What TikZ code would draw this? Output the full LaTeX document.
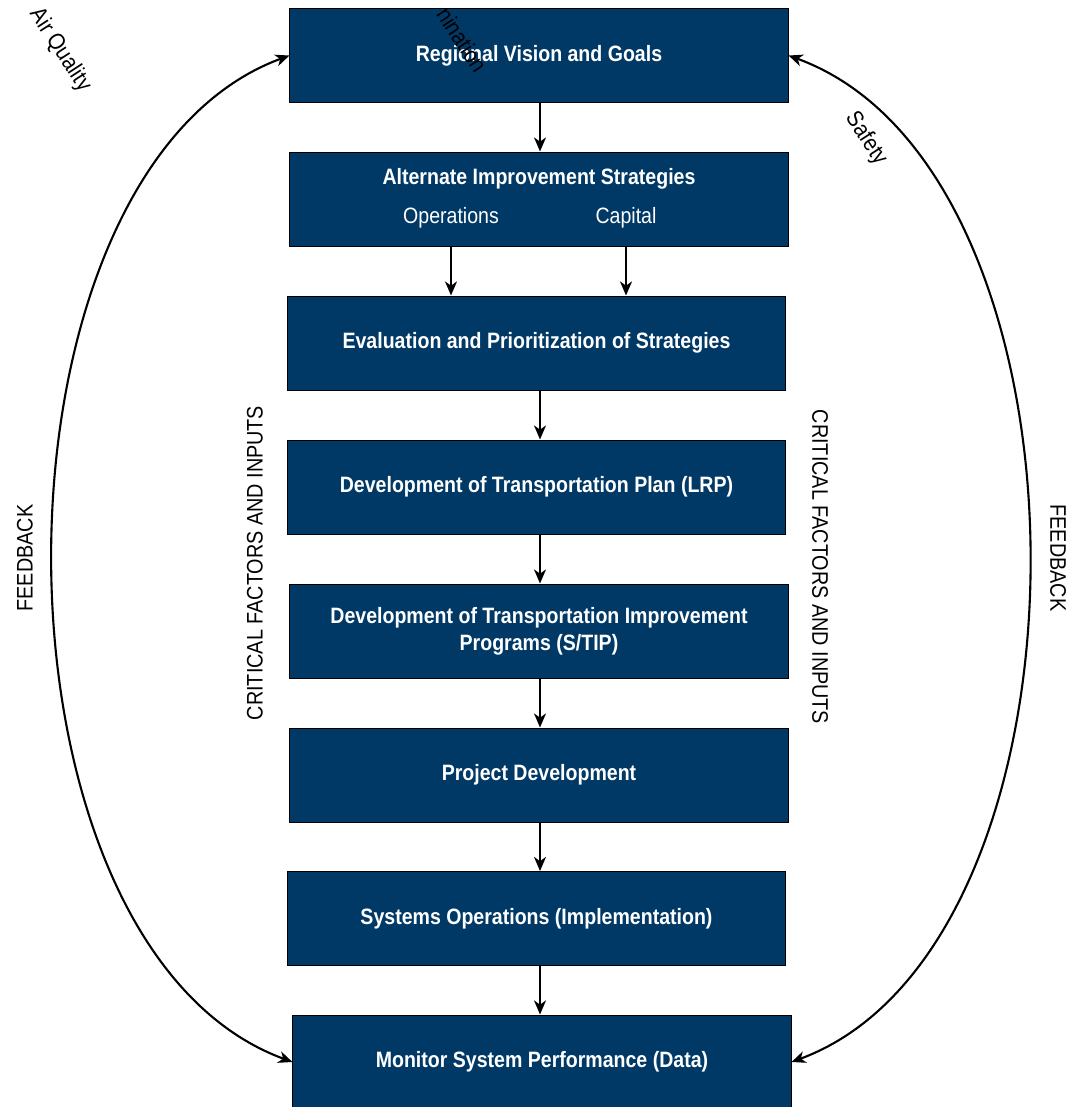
\documentclass[tikz,border=0pt]{standalone}
\usepackage{fontspec}
\setmainfont{Liberation Sans}[FakeStretch=0.88]
\usepackage{xcolor}
\usepackage{tikz}
\usetikzlibrary{arrows.meta}
\usetikzlibrary{positioning}
\definecolor{BoxBlue}{RGB}{0,57,102}
\tikzset{
  StepBox/.style={
    rectangle, minimum width=12.45cm, minimum height=2.35cm,
    draw=black, line width=0.7pt, fill=BoxBlue, text=white,
    align=center, font=\bfseries\fontsize{15.8pt}{19pt}\selectfont,
  },
  SubText/.style={text=white, font=\fontsize{15.8pt}{19pt}\selectfont},
  SideText/.style={font=\fontsize{16pt}{19pt}\selectfont},
  TagText/.style={font=\fontsize{16.5pt}{19pt}\selectfont, rotate=-57},
  FlowArrow/.style={-{Stealth[length=10pt,width=8.5pt,inset=3pt]}, line width=1.4pt},
  FeedArrow/.style={{Stealth[length=10pt,width=8.5pt,inset=3pt]}-{Stealth[length=10pt,width=8.5pt,inset=3pt]}, line width=1.5pt},
}
\begin{document}
\begin{tikzpicture}[x=0.025cm, y=-0.025cm]
\useasboundingbox (0,0) rectangle (1075,1107);
\coordinate (AXIS) at (540,0);
\node[StepBox] (RVG) at (539,55.5) {Regional Vision and Goals};
\node[StepBox] (AIS) at (539,199) {};
\node[StepBox, draw=none, fill=none] (AIStitle) at (539,179) {Alternate Improvement Strategies};
\node[SubText] (OPS) at (451,218) {Operations};
\node[SubText] (CAP) at (626,218) {Capital};
\node[StepBox] (EPS) at (536.5,343) {Evaluation and Prioritization of Strategies};
\node[StepBox] (DTP) at (536.5,487) {Development of Transportation Plan (LRP)};
\node[StepBox] (TIP) at (539,631) {Development of Transportation Improvement\\Programs (S/TIP)};
\node[StepBox] (PD) at (539,775) {Project Development};
\node[StepBox] (SO) at (536.5,918.5) {Systems Operations (Implementation)};
\node[StepBox] (MSP) at (542,1062) {Monitor System Performance (Data)};
% flow
\draw[FlowArrow] (AXIS |- RVG.south) to (AXIS |- AIS.north);
\draw[FlowArrow] (OPS |- AIS.south) to (OPS |- EPS.north);
\draw[FlowArrow] (CAP |- AIS.south) to (CAP |- EPS.north);
\draw[FlowArrow] (AXIS |- EPS.south) to (AXIS |- DTP.north);
\draw[FlowArrow] (AXIS |- DTP.south) to (AXIS |- TIP.north);
\draw[FlowArrow] (AXIS |- TIP.south) to (AXIS |- PD.north);
\draw[FlowArrow] (AXIS |- PD.south) to (AXIS |- SO.north);
\draw[FlowArrow] (AXIS |- SO.south) to (AXIS |- MSP.north);
% feedback loops
\draw[FeedArrow] (RVG.west) .. controls (-26,172) and (-26,945) .. (MSP.west);
\draw[FeedArrow] (RVG.east) .. controls (1108,172) and (1108,945) .. (MSP.east);
% side labels
\node[SideText, rotate=90] (FBL) at (25,558) {FEEDBACK};
\node[SideText, rotate=-90] (FBR) at (1058,558) {FEEDBACK};
\node[SideText, rotate=90] (CFL) at (255,563) {CRITICAL FACTORS AND INPUTS};
\node[SideText, rotate=-90] (CFR) at (820,567) {CRITICAL FACTORS AND INPUTS};
\node[TagText] (AQ) at (60,50) {Air Quality};
\node[TagText] (SAF) at (866,139) {Safety};
\node[TagText] (NIN) at (462,40) {nination};
\end{tikzpicture}
\end{document}
